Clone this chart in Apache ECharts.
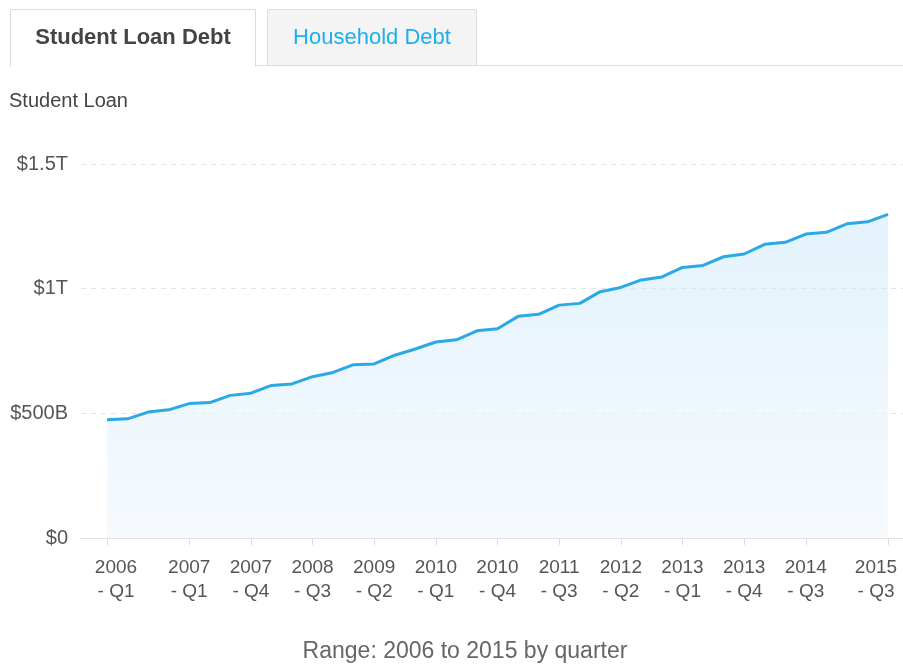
<!DOCTYPE html>
<html>
<head>
<meta charset="utf-8">
<script src="https://cdn.jsdelivr.net/npm/echarts@6/dist/echarts.min.js"></script>
<style>
  html, body { margin: 0; padding: 0; background: #fff; }
  #student_loan_chart { width: 903px; height: 664px; }
</style>
</head>
<body>
<div id="student_loan_chart"></div>
<script>
// quarters 2006 Q1 .. 2015 Q3
let years = [2006, 2007, 2008, 2009, 2010, 2011, 2012, 2013, 2014, 2015];
let quarters = ['Q1', 'Q2', 'Q3', 'Q4'];
let categories = [];
years.forEach(function (y) {
    quarters.forEach(function (q) {
        if (y === 2015 && q === 'Q4') return;
        categories.push(y + '\n- ' + q);
    });
});

// student loan debt, billions of dollars
let student_loan = [
    474, 478, 505, 514, 539, 543, 572, 581, 612, 618,
    647, 664, 695, 698, 733, 758, 786, 795, 831, 839,
    889, 897, 934, 941, 988, 1005, 1035, 1047, 1085, 1093,
    1128, 1139, 1178, 1186, 1219, 1226, 1260, 1268, 1298
];

// which quarters get a tick + label
let label_index = [0, 4, 7, 10, 13, 16, 19, 22, 25, 28, 31, 34, 38];

let y_ticks = {0: '$0', 500: '$500B', 1000: '$1T', 1500: '$1.5T'};

let font = "'Helvetica Neue', 'Liberation Sans', Arial, sans-serif";

let points = student_loan.map(function (v, i) { return [i, v]; });

let student_loan_option = {
    animation: false,
    textStyle: { fontFamily: font },
    title: {
        text: 'Range: 2006 to 2015 by quarter',
        left: 460,
        textAlign: 'center',
        top: 635,
        textStyle: {
            color: '#666',
            fontSize: 23,
            fontWeight: 'normal',
            fontFamily: font
        }
    },
    graphic: [
        {
            type: 'line',
            shape: { x1: 255, y1: 65.5, x2: 903, y2: 65.5 },
            style: { stroke: '#dddddd', lineWidth: 1 }
        },
        {
            type: 'rect',
            shape: { x: 10.5, y: 9.5, width: 245, height: 57 },
            style: { fill: '#ffffff', stroke: '#dddddd', lineWidth: 1 }
        },
        {
            type: 'rect',
            z: 99,
            shape: { x: 11, y: 64, width: 244, height: 3 },
            style: { fill: '#ffffff' }
        },
        {
            type: 'rect',
            shape: { x: 267.5, y: 9.5, width: 209, height: 56 },
            style: { fill: '#f4f4f4', stroke: '#dddddd', lineWidth: 1 }
        },
        {
            type: 'text',
            z: 100,
            x: 133, y: 38,
            style: {
                text: 'Student Loan Debt',
                fill: '#444',
                font: 'bold 22px ' + font,
                align: 'center',
                verticalAlign: 'middle'
            }
        },
        {
            type: 'text',
            z: 100,
            x: 372, y: 38,
            style: {
                text: 'Household Debt',
                fill: '#1ab0ef',
                font: '22px ' + font,
                align: 'center',
                verticalAlign: 'middle'
            }
        },
        {
            type: 'text',
            x: 9, y: 101,
            style: {
                text: 'Student Loan',
                fill: '#444',
                font: '20px ' + font,
                verticalAlign: 'middle'
            }
        }
    ],
    grid: {
        left: 81,
        right: 0,
        top: 164,
        bottom: 126,
        containLabel: false,
        outerBoundsMode: 'none'
    },
    xAxis: {
        type: 'value',
        min: -1.265,
        max: 38.73,
        splitLine: { show: false },
        axisLine: {
            lineStyle: { color: '#e2e2e2', width: 1 }
        },
        axisTick: {
            show: true,
            customValues: label_index,
            length: 7,
            lineStyle: { color: '#dddddd' }
        },
        axisLabel: {
            customValues: label_index,
            color: '#555',
            fontSize: 19,
            lineHeight: 24,
            margin: 18,
            formatter: function (value) {
                let idx = Math.round(value);
                let parts = categories[idx].split('\n');
                let st = 'm';
                if (idx === 0) st = 'first';
                if (idx === categories.length - 1) st = 'last';
                return '{' + st + '|' + parts[0] + '}\n{' + st + '|' + parts[1] + '}';
            },
            rich: {
                m: { fontSize: 19, lineHeight: 24, color: '#555' },
                first: { fontSize: 19, lineHeight: 24, color: '#555', padding: [0, 0, 0, 18] },
                last: { fontSize: 19, lineHeight: 24, color: '#555', padding: [0, 24, 0, 0] }
            }
        }
    },
    yAxis: {
        type: 'value',
        min: 0,
        max: 1500,
        interval: 500,
        axisLine: { show: false },
        axisTick: { show: false },
        axisLabel: {
            color: '#555',
            fontSize: 20,
            margin: 13,
            formatter: function (v) { return y_ticks[v]; }
        },
        splitLine: {
            lineStyle: {
                color: '#e3e3e3',
                type: [5, 5],
                width: 1
            }
        }
    },
    series: [
        {
            name: 'Student Loan',
            type: 'line',
            data: points,
            symbol: 'none',
            lineStyle: { color: '#2aa9e6', width: 3 },
            itemStyle: { color: '#2aa9e6' },
            areaStyle: {
                color: new echarts.graphic.LinearGradient(0, 0, 0, 1, [
                    { offset: 0, color: 'rgba(208,234,249,0.85)' },
                    { offset: 1, color: 'rgba(240,247,253,0.85)' }
                ])
            }
        }
    ]
};

var student_loan_chart = echarts.init(document.getElementById('student_loan_chart'));
student_loan_chart.setOption(student_loan_option);
</script>
</body>
</html>
